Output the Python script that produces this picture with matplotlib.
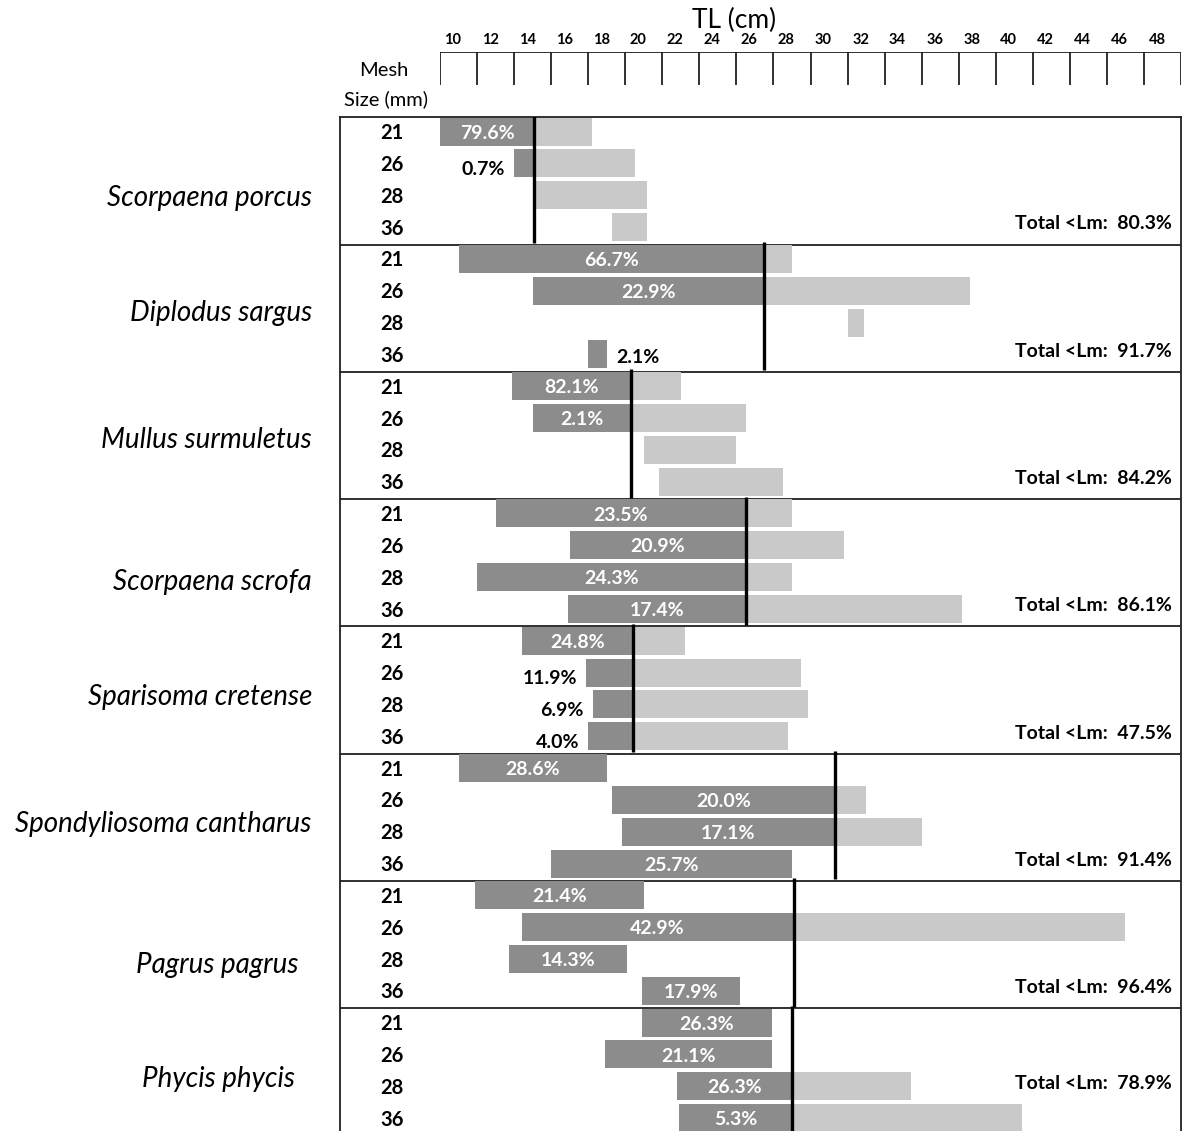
import matplotlib
matplotlib.use("Agg")
import matplotlib.pyplot as plt

plt.rcParams['font.family'] = ['Lato', 'DejaVu Sans']

# data
species = ['Scorpaena porcus', 'Diplodus sargus', 'Mullus surmuletus', 'Scorpaena scrofa',
           'Sparisoma cretense', 'Spondyliosoma cantharus', 'Pagrus pagrus', 'Phycis phycis']
mesh_sizes = ['21', '26', '28', '36']
lm = [14.1, 26.5, 19.3, 25.5, 19.4, 30.3, 28.1, 28.0]

tl_min = [[9.0, 13.0, 14.1, 18.3],
          [10.0, 14.0, 31.0, 17.0],
          [12.9, 14.0, 20.0, 20.8],
          [12.0, 16.0, 11.0, 15.9],
          [13.4, 16.9, 17.25, 17.0],
          [10.0, 18.3, 18.8, 15.0],
          [10.9, 13.4, 12.75, 19.9],
          [19.9, 17.9, 21.8, 21.9]]
tl_max = [[17.2, 19.5, 20.2, 20.2],
          [28.0, 37.6, 31.9, 18.0],
          [22.0, 25.5, 25.0, 27.5],
          [28.0, 30.8, 28.0, 37.2],
          [22.2, 28.5, 28.85, 27.8],
          [18.0, 32.0, 35.0, 28.0],
          [20.0, 46.0, 19.1, 25.2],
          [26.9, 26.9, 34.4, 40.4]]
pct_below = [['79.6%', '0.7%', '', ''],
             ['66.7%', '22.9%', '', '2.1%'],
             ['82.1%', '2.1%', '', ''],
             ['23.5%', '20.9%', '24.3%', '17.4%'],
             ['24.8%', '11.9%', '6.9%', '4.0%'],
             ['28.6%', '20.0%', '17.1%', '25.7%'],
             ['21.4%', '42.9%', '14.3%', '17.9%'],
             ['26.3%', '21.1%', '26.3%', '5.3%']]
pct_place = [['in', 'left', '', ''],
             ['in', 'in', '', 'right'],
             ['in', 'in', '', ''],
             ['in', 'in', 'in', 'in'],
             ['in', 'left', 'left', 'left'],
             ['in', 'in', 'in', 'in'],
             ['in', 'in', 'in', 'in'],
             ['in', 'in', 'in', 'in']]
total_below = ['80.3%', '91.7%', '84.2%', '86.1%', '47.5%', '91.4%', '96.4%', '78.9%']
total_row = [3, 3, 3, 3, 3, 3, 3, 2]
tick_labels = list(range(10, 49, 2))

# layout of the species names (pixels in the original image)
name_right = [312, 312, 312, 312, 312, 311, 299, 295]
name_y = [198, 313, 440, 582, 697, 824, 965, 1079]

W, H = 1183, 1131
dark = '#8c8c8c'
light = '#c9c9c9'

fig = plt.figure(figsize=(W / 100, H / 100), dpi=100)

# main panel box: pixels 340..1181 horizontally, 117.3..1135.6 vertically
px_per_cm = 18.525
x_left = 9 - (440 - 340) / px_per_cm
ax = fig.add_axes([340 / W, (H - 1135.6) / H, 841 / W, (1135.6 - 117.3) / H])
ax.set_xlim(x_left, 49)
ax.set_ylim(32, 0)
ax.set_xticks([])
ax.set_yticks([])
for s in ax.spines.values():
    s.set_linewidth(1.3)
    s.set_color('#202020')

bh = 0.88
for p in range(len(species)):
    for i in range(4):
        y = p * 4 + i + 0.45
        lo, hi = tl_min[p][i], tl_max[p][i]
        L = lm[p]
        if lo < L:
            ax.barh(y, min(hi, L) - lo, left=lo, height=bh, color=dark, zorder=2)
        if hi > L:
            st = max(lo, L)
            ax.barh(y, hi - st, left=st, height=bh, color=light, zorder=2)
        lab = pct_below[p][i]
        where = pct_place[p][i]
        if lab:
            if where == 'in':
                ax.text((lo + min(hi, L)) / 2, y + 0.05, lab, ha='center', va='center',
                        color='white', fontsize=14, fontweight='bold', zorder=4)
            elif where == 'left':
                ax.text(lo - 0.5, y + 0.2, lab, ha='right', va='center',
                        color='black', fontsize=14, fontweight='bold', zorder=4)
            else:
                ax.text(hi + 0.5, y + 0.1, lab, ha='left', va='center',
                        color='black', fontsize=14, fontweight='bold', zorder=4)
        ax.text(6.4, p * 4 + i + 0.5, mesh_sizes[i], ha='center', va='center',
                fontsize=14.5, fontweight='bold', color='black')
    ax.vlines(lm[p], p * 4 - 0.08, p * 4 + 3.95, color='black', lw=2.4, zorder=3)
    ax.text(48.5, p * 4 + total_row[p] + 0.35, 'Total <Lm:  ' + total_below[p],
            ha='right', va='center', fontsize=14, fontweight='bold', color='black')
    if p > 0:
        ax.axhline(p * 4, color='#202020', lw=1.3, zorder=1)
    fig.text(name_right[p] / W, 1 - name_y[p] / H, species[p], ha='right', va='center',
             fontsize=20, style='italic', color='black')

# header scale box
hx = fig.add_axes([440 / W, 1 - 85 / H, 741 / W, (85 - 52.3) / H])
hx.set_xlim(9, 49)
hx.set_ylim(0, 1)
hx.axis('off')
hx.hlines(1, 9, 49, color='#202020', lw=1.3)
hx.vlines(list(range(9, 50, 2)), 0, 1, color='#202020', lw=1.3)
for v in tick_labels:
    hx.text(v - 0.3, 1.38, str(v), ha='center', va='center', fontsize=10.5,
            fontweight='bold', color='black')
hx.text(24.86, 1.97, 'TL (cm)', ha='center', va='center', fontsize=19, color='black')

fig.text(383.5 / W, 1 - 70 / H, 'Mesh', ha='center', va='center', fontsize=14.5)
fig.text(385.5 / W, 1 - 99 / H, 'Size (mm)', ha='center', va='center', fontsize=14.5)

fig.savefig('out.png', dpi=100)
